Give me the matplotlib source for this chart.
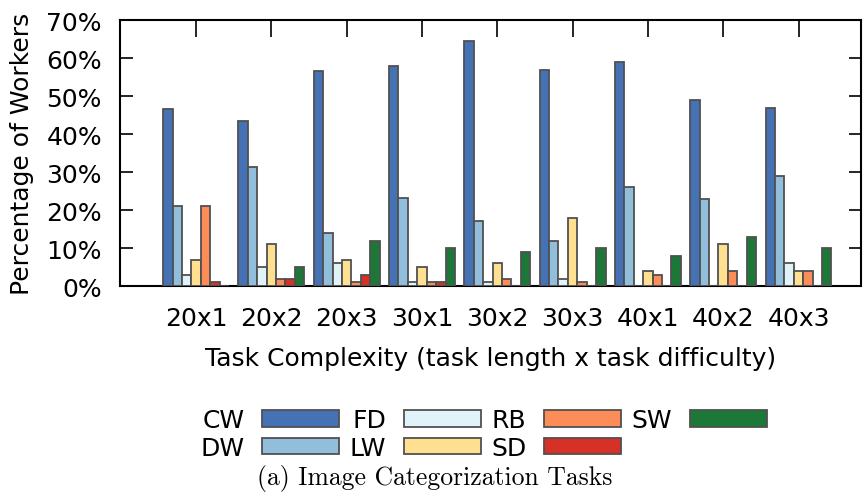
import matplotlib
matplotlib.use('Agg')
import matplotlib.pyplot as plt
import numpy as np
from matplotlib.patches import Patch

# Task complexity groups
groups = ['20x1', '20x2', '20x3', '30x1', '30x2', '30x3', '40x1', '40x2', '40x3']

# Percentage of workers per class
CW = [46.5, 43.4, 56.6, 58, 64.6, 57, 59, 49, 47]
DW = [21, 31.3, 14.1, 23.3, 17.1, 12, 26, 23, 29]
FD = [3, 5, 6, 1, 1, 2, 0, 0, 6]
LW = [7, 11, 7, 5, 6, 18, 4, 11, 4]
RB = [21, 2, 1, 1, 2, 1, 3, 4, 4]
SD = [1, 2, 3, 1, 0, 0, 0, 0, 0]
SW = [0, 5, 12, 10, 9, 10, 8, 13, 10]

series = [('CW', CW), ('DW', DW), ('FD', FD), ('LW', LW),
          ('RB', RB), ('SD', SD), ('SW', SW)]
colors = ['#4472b4', '#91bfdb', '#e0f3f8', '#fee090', '#fc8d59', '#d73027', '#1b7837']

plt.rcParams['font.family'] = 'DejaVu Sans'
fs = 18

fig = plt.figure(figsize=(8.65, 5.02), dpi=100)
ax = fig.add_axes([0.1387, 0.4277, 0.8567, 0.5303])

x = np.arange(len(groups))
bw = 0.125
handles = []
for i, (name, vals) in enumerate(series):
    offs = (i - 3) * bw
    ax.bar(x + offs, vals, width=bw, color=colors[i], edgecolor='#505050',
           linewidth=1.3, zorder=3)
    handles.append(Patch(facecolor=colors[i], edgecolor='#505050', linewidth=1.3, label=name))

ax.set_xlim(-1.01, 8.83)
ax.set_ylim(0, 70)
ax.set_xticks(x)
ax.set_xticklabels(groups, fontsize=fs)
ax.set_yticks(np.arange(0, 71, 10))
ax.set_yticklabels(['%d%%' % v for v in range(0, 71, 10)], fontsize=fs)
ax.tick_params(axis='x', direction='in', top=True, bottom=False, length=12, width=1.2, pad=14)
ax.tick_params(axis='y', direction='in', right=True, length=9, width=1.2, pad=13)
for s in ax.spines.values():
    s.set_linewidth(1.5)

ax.set_ylabel('Percentage of Workers', fontsize=fs, labelpad=9)
ax.set_xlabel('Task Complexity (task length x task difficulty)', fontsize=fs, labelpad=12)

leg = fig.legend(handles=handles, ncol=4, loc='center', bbox_to_anchor=(0.559, 0.1334),
                 frameon=False, markerfirst=False, fontsize=fs, handlelength=3.08,
                 handleheight=0.64, columnspacing=0.4, handletextpad=0.72, labelspacing=0.15)

fig.text(0.502, 0.0339, '(a) Image Categorization Tasks', fontsize=18.5,
         family='cmr10', ha='center', va='baseline')

fig.savefig('out.png', dpi=100)
